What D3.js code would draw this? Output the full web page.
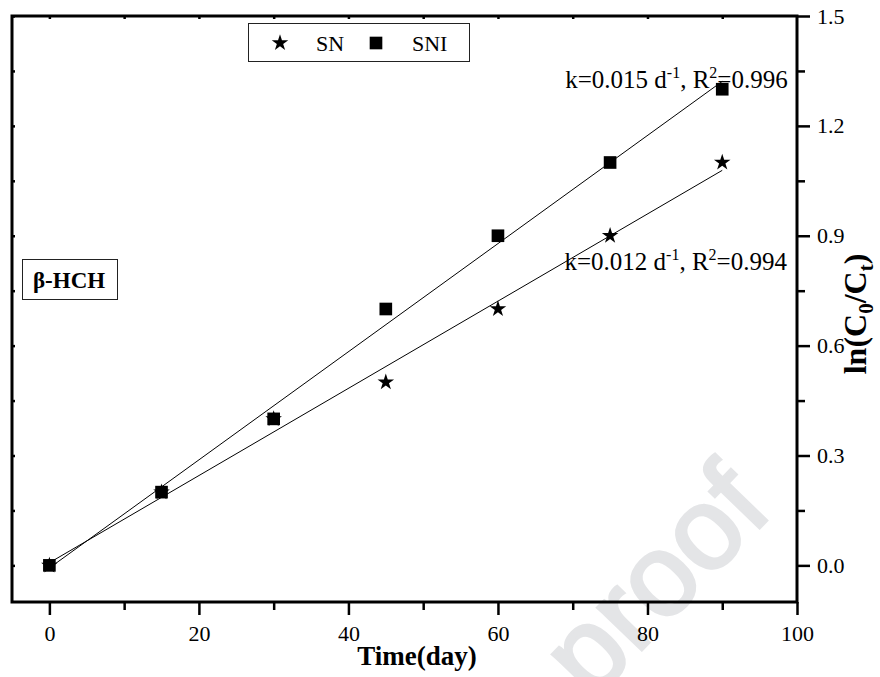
<!DOCTYPE html>
<html>
<head>
<meta charset="utf-8">
<script src="https://cdn.jsdelivr.net/npm/d3@7"></script>
<style>
	body { margin: 0; background: #fff; }
	svg { display: block; }
</style>
</head>
<body>
<div id="wrapper"></div>
<script>
/////////////////////////////////////////////////
// data /////////////////////////////////////////
/////////////////////////////////////////////////

const days = [0, 15, 30, 45, 60, 75, 90];
const snValues = [0, 0.2, 0.4, 0.5, 0.7, 0.9, 1.1];
const sniValues = [0, 0.2, 0.4, 0.7, 0.9, 1.1, 1.3];

const xTicks = [0, 20, 40, 60, 80, 100];
const xMinorTicks = [10, 30, 50, 70, 90];
const yTicks = [0, 0.3, 0.6, 0.9, 1.2, 1.5];
const yMinorTicks = [0.15, 0.45, 0.75, 1.05, 1.35];

const seriesNames = ["SN", "SNI"];
const kValues = ["0.012", "0.015"];
const r2Values = ["0.994", "0.996"];

const createChart = () => {
	/////////////////////////////////////////////////
	// dimensions ///////////////////////////////////
	/////////////////////////////////////////////////

	let dimensions = {
		width: 880,
		height: 677,
		margin: { top: 16, right: 83, bottom: 75, left: 12 }
	};
	dimensions.boundedWidth =
		dimensions.width - dimensions.margin.left - dimensions.margin.right;
	dimensions.boundedHeight =
		dimensions.height - dimensions.margin.top - dimensions.margin.bottom;

	const serif = "'Liberation Serif', 'Times New Roman', serif";

	const svg = d3
		.select("#wrapper")
		.append("svg")
		.attr("width", dimensions.width)
		.attr("height", dimensions.height);

	// watermark, sits behind everything
	svg
		.append("text")
		.attr("transform", "translate(775,512) rotate(-46)")
		.attr("text-anchor", "end")
		.style("font-family", "'Liberation Sans', Arial, sans-serif")
		.style("font-size", "116px")
		.style("fill", "#e4e5e7")
		.style("stroke", "#e4e5e7")
		.style("stroke-width", 3)
		.text("proof");

	const bounds = svg
		.append("g")
		.attr(
			"transform",
			`translate(${dimensions.margin.left},${dimensions.margin.top})`
		);

	/////////////////////////////////////////////////
	// scales ///////////////////////////////////////
	/////////////////////////////////////////////////

	const xScale = d3
		.scaleLinear()
		.domain([-5, 100])
		.range([0, dimensions.boundedWidth]);

	const yScale = d3
		.scaleLinear()
		.domain([-0.1, 1.5])
		.range([dimensions.boundedHeight, 0]);

	/////////////////////////////////////////////////
	// axes /////////////////////////////////////////
	/////////////////////////////////////////////////

	const styleAxis = (g) => {
		g.select(".domain").remove();
		g.selectAll("line").attr("stroke", "#000").attr("stroke-width", 2.5);
		g.selectAll("text")
			.style("font-family", serif)
			.style("font-size", "22px")
			.attr("fill", "#000");
	};

	// bottom
	bounds
		.append("g")
		.attr("transform", `translate(0,${dimensions.boundedHeight})`)
		.call(d3.axisBottom(xScale).tickValues(xTicks).tickSize(13).tickPadding(10))
		.call(styleAxis);
	bounds
		.append("g")
		.attr("transform", `translate(0,${dimensions.boundedHeight})`)
		.call(
			d3.axisBottom(xScale).tickValues(xMinorTicks).tickSize(8).tickFormat("")
		)
		.call(styleAxis);

	// right
	bounds
		.append("g")
		.attr("transform", `translate(${dimensions.boundedWidth},0)`)
		.call(
			d3
				.axisRight(yScale)
				.tickValues(yTicks)
				.tickSize(13)
				.tickPadding(7)
				.tickFormat(d3.format(".1f"))
		)
		.call(styleAxis);
	bounds
		.append("g")
		.attr("transform", `translate(${dimensions.boundedWidth},0)`)
		.call(
			d3.axisRight(yScale).tickValues(yMinorTicks).tickSize(8).tickFormat("")
		)
		.call(styleAxis);

	// small inner ticks on left and top
	bounds
		.append("g")
		.call(
			d3
				.axisRight(yScale)
				.tickValues(yTicks.concat(yMinorTicks))
				.tickSize(3)
				.tickFormat("")
		)
		.call(styleAxis);
	bounds
		.append("g")
		.call(
			d3
				.axisBottom(xScale)
				.tickValues(d3.range(0, 100, 10))
				.tickSize(3)
				.tickFormat("")
		)
		.call(styleAxis);

	// frame
	bounds
		.append("rect")
		.attr("width", dimensions.boundedWidth)
		.attr("height", dimensions.boundedHeight)
		.attr("fill", "none")
		.attr("stroke", "#000")
		.attr("stroke-width", 3);

	// axis titles
	svg
		.append("text")
		.attr("x", 417)
		.attr("y", 665)
		.attr("text-anchor", "middle")
		.style("font-family", serif)
		.style("font-size", "27px")
		.style("font-weight", "bold")
		.text("Time(day)");

	const yTitle = svg
		.append("text")
		.attr("transform", "translate(866,314) rotate(-90)")
		.attr("text-anchor", "middle")
		.style("font-family", serif)
		.style("font-size", "32px")
		.style("font-weight", "bold");
	yTitle.append("tspan").text("ln(C");
	yTitle.append("tspan").attr("dy", 7).style("font-size", "21px").text("0");
	yTitle.append("tspan").attr("dy", -7).text("/C");
	yTitle.append("tspan").attr("dy", 7).style("font-size", "21px").text("t");
	yTitle.append("tspan").attr("dy", -7).text(")");

	/////////////////////////////////////////////////
	// fits /////////////////////////////////////////
	/////////////////////////////////////////////////

	// least squares through the measured points
	const fitLine = (xs, ys) => {
		const mx = d3.mean(xs);
		const my = d3.mean(ys);
		const sxy = d3.sum(xs, (x, i) => (x - mx) * (ys[i] - my));
		const sxx = d3.sum(xs, (x) => (x - mx) ** 2);
		const slope = sxy / sxx;
		const intercept = my - slope * mx;
		const x0 = d3.min(xs);
		const x1 = d3.max(xs);
		return [
			[x0, intercept + slope * x0],
			[x1, intercept + slope * x1]
		];
	};

	const lineGenerator = d3
		.line()
		.x((d) => xScale(d[0]))
		.y((d) => yScale(d[1]));

	[snValues, sniValues].forEach((values) => {
		bounds
			.append("path")
			.attr("d", lineGenerator(fitLine(days, values)))
			.attr("fill", "none")
			.attr("stroke", "#000")
			.attr("stroke-width", 1);
	});

	/////////////////////////////////////////////////
	// points ///////////////////////////////////////
	/////////////////////////////////////////////////

	const star = d3.symbol().type(d3.symbolStar).size(85);
	const square = d3.symbol().type(d3.symbolSquare).size(160);

	const drawPoints = (values, symbol) => {
		bounds
			.append("g")
			.selectAll("path")
			.data(values)
			.join("path")
			.attr("d", symbol)
			.attr(
				"transform",
				(d, i) => `translate(${xScale(days[i])},${yScale(d)})`
			)
			.attr("fill", "#000");
	};

	drawPoints(snValues, star);
	drawPoints(sniValues, square);

	/////////////////////////////////////////////////
	// annotations //////////////////////////////////
	/////////////////////////////////////////////////

	const addRateLabel = (x, y, k, r2) => {
		const t = bounds
			.append("text")
			.attr("x", xScale(x))
			.attr("y", yScale(y))
			.style("font-family", serif)
			.style("font-size", "25px");
		t.append("tspan").text(`k=${k} d`);
		t.append("tspan").attr("dy", -10).style("font-size", "16px").text("-1");
		t.append("tspan").attr("dy", 10).text(", R");
		t.append("tspan").attr("dy", -10).style("font-size", "16px").text("2");
		t.append("tspan").attr("dy", 10).text(`=${r2}`);
	};

	addRateLabel(69, 1.303, kValues[1], r2Values[1]);
	addRateLabel(68.9, 0.807, kValues[0], r2Values[0]);

	/////////////////////////////////////////////////
	// legend ///////////////////////////////////////
	/////////////////////////////////////////////////

	const legend = svg.append("g");
	legend
		.append("rect")
		.attr("x", 248.5)
		.attr("y", 23.5)
		.attr("width", 221)
		.attr("height", 38)
		.attr("fill", "#fff")
		.attr("stroke", "#222")
		.attr("stroke-width", 1);

	const legendItems = [
		{ name: seriesNames[0], symbol: star, x: 280 },
		{ name: seriesNames[1], symbol: square, x: 376 }
	];
	legendItems.forEach((item) => {
		legend
			.append("path")
			.attr("d", item.symbol)
			.attr("transform", `translate(${item.x},43)`)
			.attr("fill", "#000");
		legend
			.append("text")
			.attr("x", item.x + 36)
			.attr("y", 51)
			.style("font-family", serif)
			.style("font-size", "22px")
			.text(item.name);
	});

	// compound label
	const tag = svg.append("g");
	tag
		.append("rect")
		.attr("x", 22.5)
		.attr("y", 259.5)
		.attr("width", 95)
		.attr("height", 40)
		.attr("fill", "#fff")
		.attr("stroke", "#222")
		.attr("stroke-width", 1);
	tag
		.append("text")
		.attr("x", 33)
		.attr("y", 288)
		.style("font-family", serif)
		.style("font-size", "23px")
		.style("font-weight", "bold")
		.text("β-HCH");
};

createChart();
</script>
</body>
</html>
